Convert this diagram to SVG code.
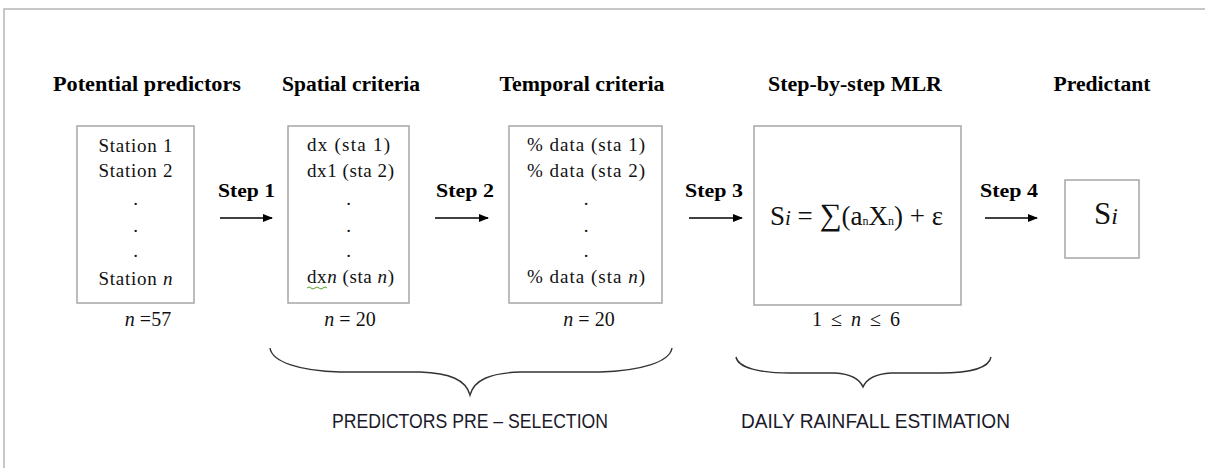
<svg xmlns="http://www.w3.org/2000/svg" width="1205" height="468" viewBox="0 0 1205 468">
<defs>
<style>
.frame{fill:none;stroke:#b5b5b5;stroke-width:1.5}
.box{fill:#fff;stroke:#a6a6a6;stroke-width:1.5}
.title{font-family:"Liberation Serif",serif;font-weight:bold;font-size:20px;fill:#000;text-anchor:middle}
.txt{font-family:"Liberation Serif",serif;font-size:19px;fill:#111;text-anchor:middle}
.lbl{font-family:"Liberation Serif",serif;font-size:20px;fill:#111;text-anchor:middle}
.step{font-family:"Liberation Serif",serif;font-weight:bold;font-size:19px;fill:#000;text-anchor:middle}
.sans{font-family:"Liberation Sans",sans-serif;font-size:20px;fill:#1a1a2a;text-anchor:middle}
.conn{stroke:#000;stroke-width:1.6;fill:none}
.brace{stroke:#333;stroke-width:1.4;fill:none}
</style>
<marker id="ah" markerWidth="10" markerHeight="10" refX="9" refY="5" orient="auto" markerUnits="userSpaceOnUse">
<path d="M0,1 L10,5 L0,9 Z" fill="#000"/>
</marker>
</defs>
<rect width="1205" height="468" fill="#fff"/>
<path class="frame" d="M4,468 V9 H1205"/>

<g id="potential-predictors">
<text class="title" x="147" y="91" textLength="188" lengthAdjust="spacingAndGlyphs">Potential predictors</text>
<rect class="box" x="77" y="126" width="117" height="177"/>
<text class="txt" x="135.5" y="152" textLength="74">Station 1</text>
<text class="txt" x="135.5" y="177" textLength="74">Station 2</text>
<text class="txt" x="135.5" y="205">.</text>
<text class="txt" x="135.5" y="232">.</text>
<text class="txt" x="135.5" y="257">.</text>
<text class="txt" x="135.5" y="285" textLength="74">Station <tspan font-style="italic">n</tspan></text>
<text class="lbl" x="148" y="326"><tspan font-style="italic">n</tspan> =57</text>
</g>

<g id="spatial-criteria">
<text class="title" x="351" y="91" textLength="138" lengthAdjust="spacingAndGlyphs">Spatial criteria</text>
<rect class="box" x="288" y="126" width="121" height="177"/>
<text class="txt" x="348.5" y="151" textLength="83">dx (sta 1)</text>
<text class="txt" x="350.5" y="177" textLength="87">dx1 (sta 2)</text>
<text class="txt" x="348.5" y="205">.</text>
<text class="txt" x="348.5" y="232">.</text>
<text class="txt" x="348.5" y="257">.</text>
<text class="txt" x="350.5" y="283" textLength="87">dx<tspan font-style="italic">n</tspan> (sta <tspan font-style="italic">n</tspan>)</text>
<path d="M307,288 q2,-2 4,0 t4,0 t4,0 t4,0 t4,0" stroke="#5aa02c" stroke-width="1" fill="none"/>
<text class="lbl" x="350" y="326"><tspan font-style="italic">n</tspan> = 20</text>
</g>

<g id="temporal-criteria">
<text class="title" x="582" y="91" textLength="165" lengthAdjust="spacingAndGlyphs">Temporal criteria</text>
<rect class="box" x="509" y="126" width="153" height="177"/>
<text class="txt" x="586" y="151" textLength="118">% data (sta 1)</text>
<text class="txt" x="586" y="177" textLength="118">% data (sta 2)</text>
<text class="txt" x="586" y="205">.</text>
<text class="txt" x="586" y="232">.</text>
<text class="txt" x="586" y="257">.</text>
<text class="txt" x="586" y="283" textLength="118">% data (sta <tspan font-style="italic">n</tspan>)</text>
<text class="lbl" x="589" y="326"><tspan font-style="italic">n</tspan> = 20</text>
</g>

<g id="mlr">
<text class="title" x="855" y="91" textLength="174" lengthAdjust="spacingAndGlyphs">Step-by-step MLR</text>
<rect class="box" x="754" y="126" width="207" height="179"/>
<text x="856.5" y="225" font-family="Liberation Serif,serif" font-size="27" fill="#111" text-anchor="middle" textLength="173">S<tspan font-style="italic" font-size="21">i</tspan> = <tspan font-size="31">∑</tspan>(a<tspan font-size="12">n</tspan>X<tspan font-size="12">n</tspan>) + ε</text>
<text class="lbl" x="856" y="326" textLength="88">1  ≤  <tspan font-style="italic">n</tspan>  ≤  6</text>
</g>

<g id="predictant">
<text class="title" x="1102" y="91" textLength="97" lengthAdjust="spacingAndGlyphs">Predictant</text>
<rect class="box" x="1065" y="180" width="74" height="78"/>
<text x="1106" y="224" font-family="Liberation Serif,serif" font-size="31" fill="#111" text-anchor="middle">S<tspan font-style="italic" font-size="24">i</tspan></text>
</g>

<g id="connectors">
<text class="step" x="246.5" y="197" textLength="57" lengthAdjust="spacingAndGlyphs">Step 1</text>
<line class="conn" x1="220" y1="218" x2="272" y2="218" marker-end="url(#ah)"/>
<text class="step" x="465" y="197" textLength="58" lengthAdjust="spacingAndGlyphs">Step 2</text>
<line class="conn" x1="435" y1="218" x2="488" y2="218" marker-end="url(#ah)"/>
<text class="step" x="714" y="197" textLength="58" lengthAdjust="spacingAndGlyphs">Step 3</text>
<line class="conn" x1="689" y1="218" x2="742" y2="218" marker-end="url(#ah)"/>
<text class="step" x="1009" y="197" textLength="58" lengthAdjust="spacingAndGlyphs">Step 4</text>
<line class="conn" x1="985" y1="218" x2="1037" y2="218" marker-end="url(#ah)"/>
</g>

<g id="preselection">
<path class="brace" d="M270,348 C272,362 300,371 340,372 L420,372 C450,373 466,380 470,395 C474,380 490,373 520,372 L600,372 C640,371 670,362 672,348"/>
<text class="sans" x="470" y="428" textLength="276" lengthAdjust="spacingAndGlyphs">PREDICTORS PRE – SELECTION</text>
</g>

<g id="rainfall-estimation">
<path class="brace" d="M736,357 C738,368 760,373 790,373 L835,373 C852,374 860,380 863,387 C866,380 874,374 891,373 L940,373 C970,373 989,368 991,357"/>
<text class="sans" x="875.5" y="428" textLength="269" lengthAdjust="spacingAndGlyphs">DAILY RAINFALL ESTIMATION</text>
</g>
</svg>
